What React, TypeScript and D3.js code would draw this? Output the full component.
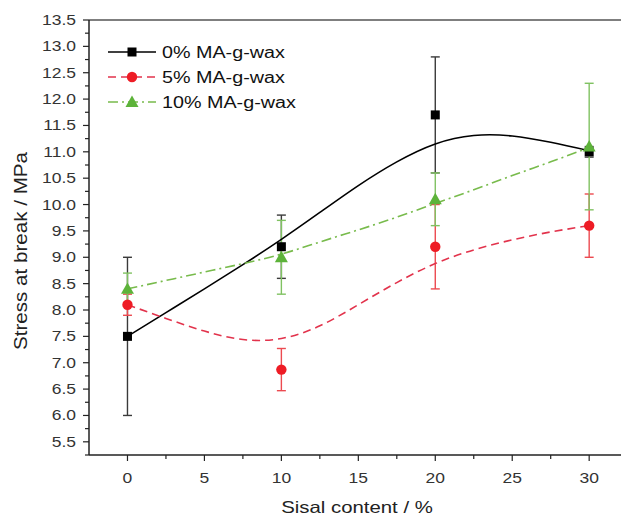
import * as d3 from "d3";
import { useEffect, useRef } from "react";

// measured points (sisal content %, stress MPa, +/- error)
const sisal = [0, 10, 20, 30];
const wax0 = [7.5, 9.2, 11.7, 11.0];
const wax0Err = [1.5, 0.6, 1.1, 0.1];
const wax5 = [8.1, 6.87, 9.2, 9.6];
const wax5Err = [0.2, 0.4, 0.8, 0.6];
const wax10 = [8.4, 9.0, 10.1, 11.1];
const wax10Err = [0.3, 0.7, 0.5, 1.2];

// fitted curves
const fitX = [0, 2.5, 5, 7.5, 10, 12.5, 15, 17.5, 20, 22.5, 25, 27.5, 30];
const fit0 = [7.5, 7.95, 8.4, 8.86, 9.34, 9.85, 10.36, 10.81, 11.15, 11.31, 11.3, 11.18, 11.02];
const fit5 = [8.1, 7.84, 7.6, 7.44, 7.46, 7.7, 8.1, 8.52, 8.88, 9.14, 9.33, 9.48, 9.6];
const fit10 = [8.4, 8.56, 8.72, 8.88, 9.06, 9.29, 9.52, 9.76, 10.02, 10.28, 10.55, 10.81, 11.08];

const labels = ["0% MA-g-wax", "5% MA-g-wax", "10% MA-g-wax"];
const yTicks = d3.range(5.5, 13.51, 0.5);
const xTicks = [0, 5, 10, 15, 20, 25, 30];

const FONT = "'Liberation Sans', Arial, sans-serif";
const STRETCH = 1.25; // the figure's text is wider than it is tall

const App = () => {
  const svgRef = useRef<SVGSVGElement>(null);

  useEffect(() => {
    const svg = d3.select(svgRef.current);
    svg.selectAll("*").remove();

    const width = 621;
    const height = 517;
    const left = 89;
    const top = 20;
    const bottom = 455;

    const x = d3.scaleLinear().domain([-2.5, 32.5]).range([left, left + 35 * 15.39]);
    const y = d3.scaleLinear().domain([5.25, 13.5]).range([bottom, top]);

    svg.attr("width", width).attr("height", height);

    // horizontal text, widened like the original
    const label = (g, tx, ty, str, size, anchor, color = "#333") =>
      g
        .append("text")
        .attr("transform", `translate(${tx},${ty}) scale(${STRETCH},1)`)
        .attr("text-anchor", anchor)
        .attr("font-family", FONT)
        .attr("font-size", size)
        .attr("fill", color)
        .text(str);

    const series = [
      { vals: wax0, err: wax0Err, fit: fit0, line: "#000", mark: "#000", bar: "#3a3a3a", dash: null, shape: "square" },
      { vals: wax5, err: wax5Err, fit: fit5, line: "#e2334c", mark: "#ee1c25", bar: "#ec4a50", dash: "8,5", shape: "circle" },
      { vals: wax10, err: wax10Err, fit: fit10, line: "#78bb4c", mark: "#5db33a", bar: "#80c262", dash: "10,4,2,4", shape: "triangle" },
    ];

    // frame: top border
    svg
      .append("line")
      .attr("x1", left)
      .attr("x2", width)
      .attr("y1", top)
      .attr("y2", top)
      .attr("stroke", "#555")
      .attr("stroke-width", 1.5);

    // y axis
    const yAxis = svg.append("g").attr("transform", `translate(${left},0)`);
    yAxis
      .append("line")
      .attr("y1", top)
      .attr("y2", bottom)
      .attr("stroke", "#222")
      .attr("stroke-width", 1.5);
    d3.range(5.25, 13.51, 0.25).forEach((v) => {
      const major = Math.abs(v * 2 - Math.round(v * 2)) < 1e-6;
      yAxis
        .append("line")
        .attr("x1", major ? -6 : -4)
        .attr("x2", 0)
        .attr("y1", y(v))
        .attr("y2", y(v))
        .attr("stroke", "#222")
        .attr("stroke-width", 1.2);
    });
    yTicks.forEach((v) => {
      label(yAxis, -13, y(v) + 5, v.toFixed(1), 14, "end");
    });

    // x axis
    const xAxis = svg.append("g").attr("transform", `translate(0,${bottom})`);
    xAxis
      .append("line")
      .attr("x1", left)
      .attr("x2", width)
      .attr("stroke", "#222")
      .attr("stroke-width", 1.5);
    d3.range(-2.5, 32.6, 2.5).forEach((v) => {
      if (v < -2 || x(v) > width) return;
      const major = Math.abs(v % 5) < 1e-6;
      xAxis
        .append("line")
        .attr("x1", x(v))
        .attr("x2", x(v))
        .attr("y1", 0)
        .attr("y2", major ? 6 : 4)
        .attr("stroke", "#222")
        .attr("stroke-width", 1.2);
    });
    xTicks.forEach((v) => {
      label(xAxis, x(v), 28, v, 14, "middle");
    });

    // axis titles
    label(svg, 357, 513, "Sisal content / %", 16.3, "middle", "#222");
    svg
      .append("text")
      .attr("transform", `translate(27,251) rotate(-90)`)
      .attr("text-anchor", "middle")
      .attr("font-family", FONT)
      .attr("font-size", 18.5)
      .attr("textLength", 198)
      .attr("lengthAdjust", "spacingAndGlyphs")
      .attr("fill", "#222")
      .text("Stress at break / MPa");

    const plot = svg.append("g");

    const drawMarker = (g, shape, cx, cy, color) => {
      if (shape === "square") {
        g.append("rect")
          .attr("x", cx - 4.5)
          .attr("y", cy - 4.5)
          .attr("width", 9)
          .attr("height", 9)
          .attr("fill", color);
      } else if (shape === "circle") {
        g.append("circle").attr("cx", cx).attr("cy", cy).attr("r", 5.2).attr("fill", color);
      } else {
        const r = 6.5;
        g.append("path")
          .attr("d", `M${cx},${cy - r}L${cx + r},${cy + r * 0.75}L${cx - r},${cy + r * 0.75}Z`)
          .attr("fill", color);
      }
    };

    const line = d3
      .line<number>()
      .x((_, i) => x(fitX[i]))
      .y((d) => y(d))
      .curve(d3.curveNatural);

    // error bars
    series.forEach((s) => {
      sisal.forEach((sx, i) => {
        const cx = x(sx);
        const y0 = y(s.vals[i] - s.err[i]);
        const y1 = y(s.vals[i] + s.err[i]);
        plot
          .append("line")
          .attr("x1", cx)
          .attr("x2", cx)
          .attr("y1", y0)
          .attr("y2", y1)
          .attr("stroke", s.bar)
          .attr("stroke-width", 1.4);
        [y0, y1].forEach((yy) => {
          plot
            .append("line")
            .attr("x1", cx - 4.5)
            .attr("x2", cx + 4.5)
            .attr("y1", yy)
            .attr("y2", yy)
            .attr("stroke", s.bar)
            .attr("stroke-width", 1.4);
        });
      });
    });

    // fitted curves
    series.forEach((s) => {
      plot
        .append("path")
        .datum(s.fit)
        .attr("d", line)
        .attr("fill", "none")
        .attr("stroke", s.line)
        .attr("stroke-width", 1.6)
        .attr("stroke-dasharray", s.dash);
    });

    // markers
    series.forEach((s) => {
      sisal.forEach((sx, i) => drawMarker(plot, s.shape, x(sx), y(s.vals[i]), s.mark));
    });

    // legend
    const legend = svg.append("g");
    series.forEach((s, i) => {
      const ly = 52 + i * 25;
      legend
        .append("line")
        .attr("x1", 108)
        .attr("x2", 156)
        .attr("y1", ly)
        .attr("y2", ly)
        .attr("stroke", s.line)
        .attr("stroke-width", 1.6)
        .attr("stroke-dasharray", s.dash);
      drawMarker(legend, s.shape, 132, ly, s.mark);
      label(legend, 162, ly + 5.8, labels[i], 15.8, "start", "#111");
    });
  }, []);

  return (
    <svg
      ref={svgRef}
      style={{ position: "absolute", left: 0, top: 0, background: "white" }}
    />
  );
};

export default App;
